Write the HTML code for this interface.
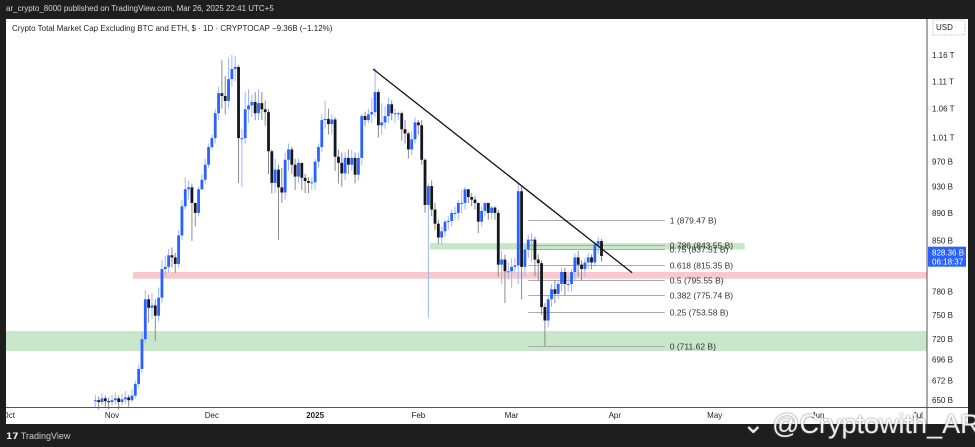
<!DOCTYPE html>
<html><head><meta charset="utf-8"><style>
body{margin:0;width:975px;height:447px;background:#1e1e1e;overflow:hidden;font-family:"Liberation Sans",sans-serif;position:relative}
.t{position:absolute;white-space:nowrap}
</style></head><body>
<div class="t" style="left:6px;top:4px;font-size:8px;color:#d8d8d8">ar_crypto_8000 published on TradingView.com, Mar 26, 2025 22:41 UTC+5</div>
<svg id="chart" width="975" height="447" style="position:absolute;left:0;top:0">
<rect x="6" y="19" width="962" height="405" fill="#fff"/>
<g id="zones"></g><g id="fib"></g><g id="candles"></g><g id="overlay"></g>
<line x1="927" y1="19" x2="927" y2="424" stroke="#555" stroke-width="1"/>
<line x1="6" y1="407.5" x2="968" y2="407.5" stroke="#555" stroke-width="1"/>
<g id="yaxis" font-size="8" fill="#222"></g><g id="xaxis" font-size="8" fill="#222"></g>
<rect x="933" y="20" width="32" height="15" fill="none" stroke="#ccc" stroke-dasharray="2,1"/>
<text x="936" y="30" font-size="8" fill="#222">USD</text>
<text x="12" y="31" font-size="8" fill="#222">Crypto Total Market Cap Excluding BTC and ETH, $ · 1D · CRYPTOCAP  −9.36B (−1.12%)</text>
</svg>
<div class="t" style="left:6px;top:431px;font-size:9px;color:#ccc"><b style="color:#eee">𝟭𝟳</b> TradingView</div>
<div class="t" style="left:742px;top:409px;font-size:27px;color:#fff;opacity:.92;text-shadow:0 0 2px #555">⌄ @Cryptowith_AR</div>
<script>
const startDay=-5;
const closes=[650,648,652,649,648,650,652,648,651,653,650,655,668,685,720,770,759,762,749,772,810,813,829,826,817,857,900,926,929,905,890,926,941,965,994,1009,1052,1088,1083,1074,1114,1133,1137,1009,1009,1059,1066,1072,1052,1070,1059,1054,987,936,957,929,921,973,990,965,946,968,944,939,936,937,970,994,1040,1042,1033,1041,978,968,951,976,965,976,949,976,1047,1040,1050,1054,1090,1031,1036,1047,1068,1052,1052,1052,1024,1017,990,1007,1036,1031,973,902,931,895,874,854,863,877,878,890,890,905,905,926,914,910,905,877,893,905,890,898,890,816,823,807,807,813,815,923,813,837,851,851,823,818,760,743,770,783,777,790,806,790,790,806,826,816,810,819,826,819,844,849,828];
const highs=[656,654,658,655,653,656,658,655,657,660,656,
662,672,690,728,782,776,778,770,785,822,
828,838,840,832,865,910,945,940,935,900,
930,950,975,1000,1015,1060,1100,1150,1120,1155,
1160,1158,1140,1025,1090,1095,1085,1090,1095,1090,
1075,1060,990,975,965,960,985,1000,995,975,
975,960,950,945,945,975,1000,1050,1075,1060,
1050,1045,990,985,985,990,990,985,985,1050,1055,1060,
1080,1135,1095,1070,1065,1080,1075,1060,1055,1055,
1040,1020,1020,1045,1040,1040,975,935,940,905,
880,870,880,885,895,900,910,925,930,925,
920,915,905,900,905,905,900,900,895,835,
830,820,825,825,936,930,845,858,860,855,830,
822,765,775,790,795,795,812,812,800,810,
832,835,822,825,832,830,848,855,852];
const lows=[642,640,644,642,640,644,645,640,644,646,643,
648,652,664,680,715,740,745,718,742,765,
800,805,812,805,812,850,895,910,849,870,
885,925,935,960,990,1000,1040,1060,1050,1060,
1100,1110,936,930,1000,1035,1045,1040,1040,1040,
1030,950,920,920,851,905,910,955,950,925,
935,925,920,920,925,925,960,985,1025,1015,
1015,955,935,930,940,950,955,935,940,965,1030,1035,
1035,1045,1010,1015,1025,1035,1040,1035,1040,1005,
1000,975,980,1000,1015,965,890,746,885,865,
845,845,855,865,870,880,880,890,895,905,
900,895,860,870,885,880,880,880,800,790,
765,795,785,805,790,770,800,825,820,800,795,
750,712,735,760,765,770,780,775,780,780,
795,800,795,800,810,810,815,830,820];
const yTicks=[1160,1110,1060,1010,970,930,890,850,780,750,720,696,672,650];
const yTickText=["1.16 T","1.11 T","1.06 T","1.01 T","970 B","930 B","890 B","850 B","780 B","750 B","720 B","696 B","672 B","650 B"];
const monthDays=[-31,0,30,61,92,120,151,181,212,242];
const monthText=["Oct","Nov","Dec","2025","Feb","Mar","Apr","May","Jun","Jul"];
const fibLevels=["1","0.786","0.75","0.618","0.5","0.382","0.25","0"];
const fibPrices=[879.47,843.55,837.51,815.35,795.55,775.74,753.58,711.62];
const lastPrice=828.36;
const trendStart=[78.4,1133],trendEnd=[156.2,805];

const NS="http://www.w3.org/2000/svg";
const X=d=>112+d*3.33;
const Y=p=>55+Math.log(1160/p)*596;
function mk(tag,attrs,parent,name,inter){const e=document.createElementNS(NS,tag);for(const k in attrs)e.setAttribute(k,attrs[k]);document.getElementById(parent).appendChild(e);


return e;}
mk('rect',{x:6,y:Y(730),width:921,height:Y(706)-Y(730),fill:'#c8e6c9'},'zones','support-zone','true');
mk('rect',{x:X(6.3),y:Y(806),width:927-X(6.3),height:Y(797)-Y(806),fill:'#f8c8cc'},'zones','resistance-zone','true');
mk('rect',{x:X(95.5),y:Y(846),width:X(190)-X(95.5),height:Y(837)-Y(846),fill:'#c8e6c9'},'zones','mini-zone','true');
fibPrices.forEach((p,i)=>{const y=Math.round(Y(p))+.5;
mk('line',{x1:X(125),x2:X(166),y1:y,y2:y,stroke:'#aaa','stroke-width':1},'fib','fib-line-'+fibLevels[i],'true');
const t=mk('text',{x:X(167.5),y:y+3,'font-size':8.5,fill:'#333'},'fib','fib-label-'+fibLevels[i],'false');t.textContent=fibLevels[i]+' ('+p.toFixed(2)+' B)';});
closes.forEach((c,i)=>{const o=i?closes[i-1]:c;const x=X(startDay+i);const up=c>=o;
const h=Math.max(highs[i]||0,o,c),l=Math.min(lows[i]||1e9,o,c);
mk('line',{x1:x,x2:x,y1:Y(h),y2:Y(l),stroke:up?'#9db6ff':'#8a8a8a','stroke-width':1},'candles','candle-wick','false');
const yt=Y(Math.max(o,c)),yb=Y(Math.min(o,c));
mk('rect',{x:x-1.4,y:yt,width:2.8,height:Math.max(1,yb-yt),fill:up?'#2962ff':'#131722'},'candles','candle-body','false');});
mk('line',{x1:X(trendStart[0]),y1:Y(trendStart[1]),x2:X(trendEnd[0]),y2:Y(trendEnd[1]),stroke:'#111','stroke-width':1.3},'overlay','trendline','true');
yTicks.forEach((p,i)=>{const t=mk('text',{x:932,y:Y(p)+3},'yaxis','y-tick-label','false');t.textContent=yTickText[i];});
const ly=Y(lastPrice);
mk('rect',{x:928,y:ly-9,width:38,height:20,fill:'#2962ff'},'yaxis','last-price-tag','false');
let t1=mk('text',{x:932,y:ly,fill:'#fff'},'yaxis','last-price-value','false');t1.textContent=lastPrice.toFixed(2)+' B';
let t2=mk('text',{x:932,y:ly+9,fill:'#fff'},'yaxis','countdown-timer','false');t2.textContent='06:18:37';
monthDays.forEach((d,i)=>{const t=mk('text',{x:X(d),y:418,'text-anchor':'middle','font-weight':monthText[i]==='2025'?'bold':'normal'},'xaxis','x-tick-label','false');t.textContent=monthText[i];});
</script>
</body></html>
